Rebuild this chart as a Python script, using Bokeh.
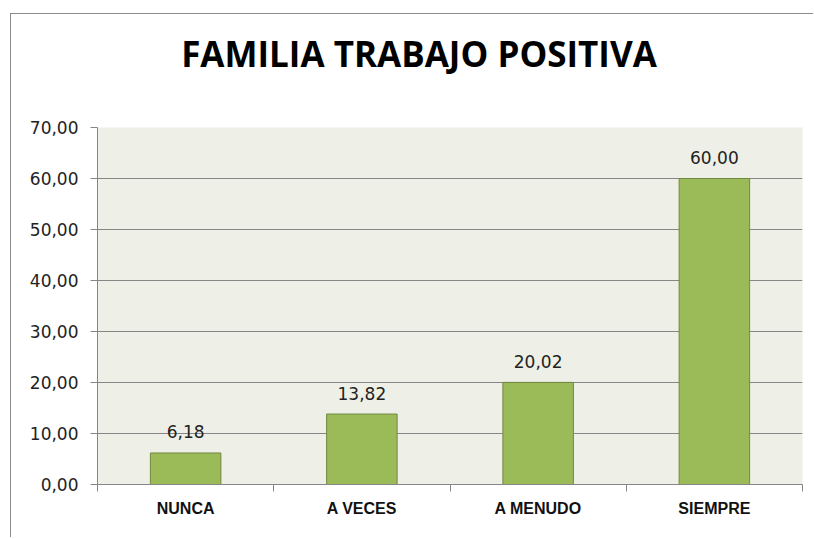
from bokeh.plotting import figure
from bokeh.models import (ColumnDataSource, Range1d, FixedTicker, CustomJSTickFormatter,
                          LabelSet, Div)
from bokeh.layouts import column
from bokeh.core.properties import value
from bokeh.embed import file_html
from bokeh.resources import INLINE

categories = ["NUNCA", "A VECES", "A MENUDO", "SIEMPRE"]
values = [6.18, 13.82, 20.02, 60.00]
y_ticks = [0, 10, 20, 30, 40, 50, 60, 70]
title_text = "FAMILIA TRABAJO POSITIVA"

centers = [i + 0.5 for i in range(len(categories))]
labels = [f"{v:.2f}".replace(".", ",") for v in values]
src = ColumnDataSource(dict(x=centers, top=values, lab=labels, cat=categories))

title = Div(text=title_text, width=802, height=62, margin=0,
            styles={"font-family": "Open Sans", "font-size": "35px", "font-weight": "bold",
                    "color": "black", "text-align": "center", "line-height": "42px",
                    "padding-top": "19px", "padding-left": "14px",
                    "box-sizing": "border-box", "background": "white"})

p = figure(width=802, height=461, output_backend="svg", toolbar_location=None,
           x_range=Range1d(0, len(categories)), y_range=Range1d(0, 70),
           min_border_left=86, min_border_top=51, min_border_right=11, min_border_bottom=53)
p.margin = 0

p.background_fill_color = "#EEF0E7"
p.border_fill_color = "white"
p.outline_line_color = None

p.vbar(x="x", top="top", width=0.4, source=src,
       fill_color="#9BBB59", line_color="#71893F", line_width=1)

p.add_layout(LabelSet(x="x", y="top", text="lab", source=src, y_offset=21,
                      text_align="center", text_baseline="middle",
                      text_font=value("DejaVu Sans"), text_font_size=value("17px"),
                      text_color="#222222"))

# y axis
p.yaxis.ticker = FixedTicker(ticks=y_ticks)
p.yaxis.formatter = CustomJSTickFormatter(code="return tick.toFixed(2).replace('.', ',');")
p.yaxis.axis_line_color = "#868686"
p.yaxis.major_tick_line_color = "#868686"
p.yaxis.major_tick_out = 7
p.yaxis.major_tick_in = 0
p.yaxis.minor_tick_line_color = None
p.yaxis.major_label_text_font = "DejaVu Sans"
p.yaxis.major_label_text_font_size = "17px"
p.yaxis.major_label_text_color = "#222222"
p.yaxis.major_label_standoff = 12

# x axis
p.xaxis.ticker = FixedTicker(ticks=centers, minor_ticks=list(range(len(categories) + 1)))
p.xaxis.major_label_overrides = {c: n for c, n in zip(centers, categories)}
p.xaxis.axis_line_color = "#868686"
p.xaxis.major_tick_line_color = None
p.xaxis.minor_tick_line_color = "#868686"
p.xaxis.minor_tick_out = 7
p.xaxis.minor_tick_in = 0
p.xaxis.major_label_text_font = "Liberation Sans"
p.xaxis.major_label_text_font_style = "bold"
p.xaxis.major_label_text_font_size = "16px"
p.xaxis.major_label_text_color = "#111111"
p.xaxis.major_label_standoff = 8

p.xgrid.grid_line_color = None
p.ygrid.ticker = FixedTicker(ticks=y_ticks)
p.ygrid.grid_line_color = "#868686"

layout = column(title, p, spacing=0)
layout.margin = (13, 0, 0, 10)
layout.styles = {"border-top": "1px solid #8c8c8c", "border-left": "1px solid #8c8c8c"}

open("out.html", "w").write(file_html(layout, INLINE))
